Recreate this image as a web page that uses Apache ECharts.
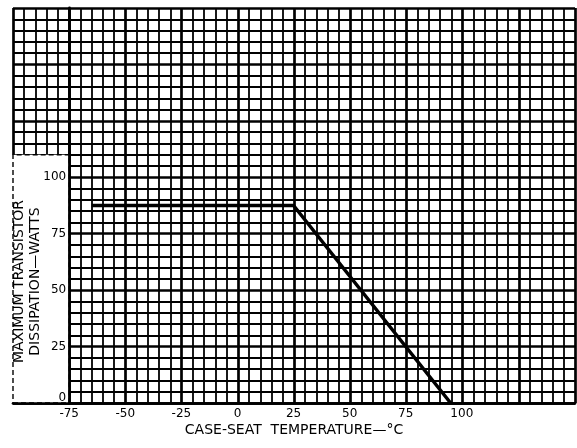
<!DOCTYPE html>
<html>
<head>
<meta charset="utf-8">
<title>Maximum Transistor Dissipation vs Case-Seat Temperature</title>
<script src="https://cdn.jsdelivr.net/npm/echarts@6/dist/echarts.min.js"></script>
<style>
  html, body { margin: 0; padding: 0; background: #fff; }
  #chart { width: 577px; height: 448px; }
</style>
</head>
<body>
<div id="chart"></div>
<script>
// Derating curve: case-seat temperature (°C) -> maximum dissipation (W)
const temperatures = [-65, 25, 95];
const dissipation = [87.5, 87.5, 0];

// Tick labels printed on the axes
const xTickLabels = ['-75', '-50', '-25', '0', '25', '50', '75', '100'];
const yTickLabels = ['0', '25', '50', '75', '100'];

// Graph-paper extent and the blank label panel at the lower left
const paperX = [-100, 150];
const paperY = [0, 175];
const axisStartX = -75;
const panelTopY = 110;

const FONT = 'DejaVu Sans';
const INK = '#000';
const MAJOR_W = 2.7;
const MINOR_W = 1.8;

const chart = echarts.init(document.getElementById('chart'), null, { renderer: 'canvas' });

const paperLeft = 13, paperRight = 2, paperTop = 8, paperBottom = 45;
const pxPerDeg = (577 - paperLeft - paperRight) / (paperX[1] - paperX[0]);
const axisLeft = paperLeft + (axisStartX - paperX[0]) * pxPerDeg;

const paperAxis = (min, max) => ({
  type: 'value',
  min: min,
  max: max,
  interval: 25,
  axisTick: { show: false },
  axisLabel: { show: false },
  minorTick: { show: false, splitNumber: 5 },
  splitLine: { show: true, lineStyle: { color: INK, width: MAJOR_W } },
  minorSplitLine: { show: true, lineStyle: { color: INK, width: MINOR_W } }
});

const curve = temperatures.map((t, i) => [t, dissipation[i]]);

chart.setOption({
  animation: false,
  backgroundColor: '#fff',
  grid: [
    { left: paperLeft, right: paperRight, top: paperTop, bottom: paperBottom },
    { left: axisLeft, right: paperRight, top: paperTop, bottom: paperBottom }
  ],
  xAxis: [
    Object.assign(paperAxis(paperX[0], paperX[1]), {
      gridIndex: 0,
      axisLine: { show: true, onZero: false, lineStyle: { color: INK, width: MAJOR_W } },
      splitLine: { show: true, showMinLine: false, lineStyle: { color: INK, width: MAJOR_W } },
      name: 'CASE-SEAT  TEMPERATURE—°C',
      nameLocation: 'middle',
      nameGap: 20,
      nameTextStyle: { fontFamily: FONT, fontSize: 14, color: INK }
    }),
    {
      type: 'value',
      gridIndex: 1,
      min: axisStartX,
      max: paperX[1],
      interval: 25,
      z: 10,
      axisLine: { show: true, onZero: false, lineStyle: { color: INK, width: MAJOR_W } },
      axisTick: { show: false },
      splitLine: { show: false },
      axisLabel: {
        margin: 5,
        fontFamily: FONT,
        fontSize: 12,
        color: INK,
        formatter: v => (xTickLabels.includes(String(v)) ? String(v) : '')
      }
    }
  ],
  yAxis: [
    Object.assign(paperAxis(paperY[0], paperY[1]), {
      gridIndex: 0,
      axisLine: { show: false }
    }),
    {
      type: 'value',
      gridIndex: 1,
      min: paperY[0],
      max: paperY[1],
      interval: 25,
      z: 10,
      axisLine: { show: true, onZero: false, lineStyle: { color: INK, width: 2.8 } },
      axisTick: { show: false },
      splitLine: { show: false },
      axisLabel: {
        margin: 3,
        fontFamily: FONT,
        fontSize: 12,
        color: INK,
        formatter: v => {
          const s = String(v);
          if (!yTickLabels.includes(s)) return '';
          return v === 0 ? '{base|' + s + '}' : s;
        },
        rich: {
          base: { fontFamily: FONT, fontSize: 12, color: INK, padding: [0, 0, 11, 0] }
        }
      }
    }
  ],
  graphic: [
    {
      type: 'text',
      x: 27.5,
      y: 281.5,
      rotation: Math.PI / 2,
      z: 20,
      style: {
        text: 'MAXIMUM TRANSISTOR\nDISSIPATION—WATTS',
        fontFamily: FONT,
        fontSize: 14,
        lineHeight: 16.5,
        fill: INK,
        align: 'center',
        verticalAlign: 'middle'
      }
    }
  ],
  series: [
    {
      // blank label panel left of the temperature scale
      type: 'line',
      xAxisIndex: 0,
      yAxisIndex: 0,
      data: [],
      silent: true,
      z: 3,
      markArea: {
        silent: true,
        itemStyle: {
          color: '#fff',
          borderColor: INK,
          borderWidth: 1.4,
          borderType: [5, 3]
        },
        data: [[{ coord: [paperX[0], paperY[0]] }, { coord: [axisStartX, panelTopY] }]]
      },
      markLine: {
        silent: true,
        symbol: 'none',
        label: { show: false },
        lineStyle: { color: INK, width: MAJOR_W, type: 'solid' },
        data: [
          [{ coord: [paperX[0], panelTopY] }, { coord: [paperX[0], paperY[1]] }],
          [{ coord: [paperX[0], paperY[0]] }, { coord: [axisStartX, paperY[0]] }]
        ]
      }
    },
    {
      name: 'Maximum dissipation',
      type: 'line',
      xAxisIndex: 1,
      yAxisIndex: 1,
      data: curve,
      showSymbol: false,
      silent: true,
      z: 12,
      lineStyle: { color: INK, width: 3.5 }
    }
  ]
});
</script>
</body>
</html>
